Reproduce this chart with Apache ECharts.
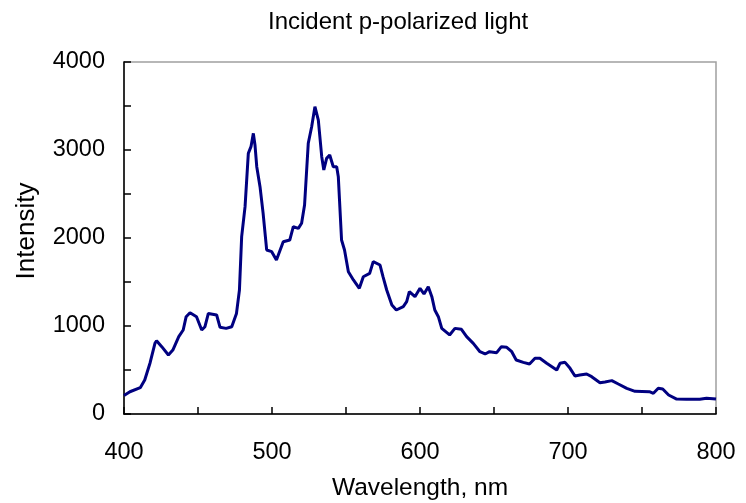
<!DOCTYPE html>
<html>
<head>
<meta charset="utf-8">
<script src="https://cdn.jsdelivr.net/npm/echarts@6/dist/echarts.min.js"></script>
<style>html,body{margin:0;padding:0;background:#fff}#c{width:746px;height:503px}</style>
</head>
<body>
<div id="c"></div>
<script>
const wavelengths = [400,404,411,414,417.6,421,422,425.5,430,433,437,440,442,444.6,449,452.5,454.7,457,462.6,464.9,469,472.8,476,478,479.5,481.8,484,485.8,487.4,488.5,489.7,491.9,494,496.4,499.8,503,507.6,512,514.4,517.8,520,522,524.5,526.8,529,531.3,533.6,535,536.9,539,541.4,543.7,544.8,547,549,551.6,555,559,561.7,566,568.4,573,575,577.5,581,584,588.7,591,592.8,596.6,600,602.7,605.6,608,610,612.4,614.7,620,623.6,628,631.5,636,640.5,644,647,651.8,655,658.6,662,665,669.8,674,677.7,681,685.6,692.4,694.6,698,701.4,704.7,708,712.6,716,721.6,725,729.6,734,739.7,745.3,755,757.7,761,764,768,773.4,780,789,793.6,798,800];
const intensity = [210,253,299,386,580,807,833,765,670,727,879,955,1106,1151,1106,955,992,1143,1125,985,973,992,1143,1409,2015,2356,2962,3038,3189,3057,2810,2583,2280,1864,1845,1750,1958,1977,2128,2110,2167,2375,3076,3265,3492,3340,2924,2773,2905,2943,2810,2810,2697,1977,1864,1617,1523,1428,1560,1598,1731,1693,1560,1409,1239,1182,1220,1276,1390,1333,1428,1364,1447,1333,1182,1106,973,898,973,962,879,803,708,682,708,697,765,758,708,614,587,568,633,633,576,500,576,587,519,432,443,455,424,356,364,379,341,292,258,254,235,292,284,216,170,167,167,178,174,170];
const xTicks = [400,500,600,700,800];
const yTicks = [0,1000,2000,3000,4000];

const chart = echarts.init(document.getElementById('c'), null, {renderer:'canvas'});
const font = 'Liberation Sans, Arial, sans-serif';
chart.setOption({
  animation:false,
  title:{text:'Incident p-polarized light', left:263, top:5,
    textStyle:{fontFamily:font,fontSize:24,fontWeight:'normal',color:'#000'}},
  grid:{left:124,right:30,top:62,bottom:89,containLabel:false,outerBoundsMode:'none',
    show:true,borderColor:'#a0a0a0',borderWidth:1.5,backgroundColor:'transparent'},
  xAxis:{type:'value',min:400,max:800,interval:50,
    name:'Wavelength, nm',nameLocation:'middle',nameGap:62,
    nameTextStyle:{fontFamily:font,fontSize:24.5,color:'#000'},
    axisLine:{lineStyle:{color:'#000',width:1.5}},
    axisTick:{inside:false,length:-7,lineStyle:{color:'#000',width:1.5}},
    axisLabel:{margin:27,fontFamily:font,fontSize:23.5,color:'#000',
      formatter:v=>xTicks.includes(v)?String(v):''},
    splitLine:{show:false}},
  yAxis:{type:'value',min:0,max:4000,interval:500,
    name:'Intensity',nameLocation:'middle',nameGap:84,nameRotate:90,
    nameTextStyle:{fontFamily:font,fontSize:26,color:'#000',padding:[0,0,0,14]},
    axisLine:{show:true,lineStyle:{color:'#000',width:1.5}},
    axisTick:{show:true,inside:false,length:-7,lineStyle:{color:'#000',width:1.5}},
    axisLabel:{margin:19,fontFamily:font,fontSize:23.5,color:'#000',
      formatter:v=>yTicks.includes(v)?String(v):''},
    splitLine:{show:false}},
  series:[{type:'line',data:wavelengths.map((w,i)=>[w,intensity[i]]),
    showSymbol:false,smooth:false,lineStyle:{color:'#000080',width:3},clip:true}]
});
</script>
</body>
</html>
